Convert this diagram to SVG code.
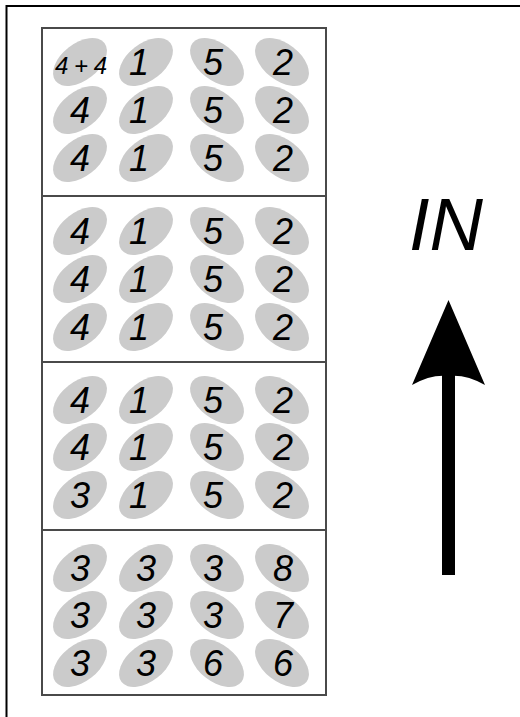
<svg xmlns="http://www.w3.org/2000/svg" width="520" height="717" viewBox="0 0 520 717">
<defs>
<style>
.bg{fill:#ffffff}
.frame{fill:none;stroke:#000;stroke-width:2}
.box{fill:none;stroke:#4a4a4a;stroke-width:2}
.blob{fill:#cbcbcb;filter:url(#soft)}
.d{font-family:"Liberation Sans",Arial,sans-serif;font-style:italic;font-size:36px;fill:#000;text-anchor:middle}
.d.s{font-size:24px}
.lbl{font-family:"Liberation Sans",Arial,sans-serif;font-style:italic;font-size:74px;fill:#000}
</style>
<filter id="soft" x="-10%" y="-10%" width="120%" height="120%"><feGaussianBlur stdDeviation="0.6"/></filter>
<ellipse id="eL" cx="0" cy="0" rx="31" ry="18.5" transform="rotate(-38)"/>
<ellipse id="eR" cx="0" cy="0" rx="31" ry="18.5" transform="rotate(38)"/>
</defs>
<rect class="bg" x="0" y="0" width="520" height="717"/>
<path class="frame" d="M6.5,717 V6 H520"/>

<g id="grid">
<rect class="box" x="42" y="28" width="284" height="667"/>
<line class="box" x1="42" y1="196" x2="326" y2="196"/>
<line class="box" x1="42" y1="362" x2="326" y2="362"/>
<line class="box" x1="42" y1="530" x2="326" y2="530"/>
</g>

<!-- Section 1 -->
<g id="s1r1c1"><use href="#eL" class="blob" x="80" y="62"/><text class="d s" x="81" y="74" textLength="52" lengthAdjust="spacing">4+4</text></g>
<g id="s1r1c2"><use href="#eL" class="blob" x="146" y="62"/><text class="d" x="139" y="75">1</text></g>
<g id="s1r1c3"><use href="#eR" class="blob" x="217" y="62"/><text class="d" x="213" y="75">5</text></g>
<g id="s1r1c4"><use href="#eR" class="blob" x="282" y="62"/><text class="d" x="283" y="75">2</text></g>
<g id="s1r2c1"><use href="#eL" class="blob" x="80" y="110"/><text class="d" x="80" y="123">4</text></g>
<g id="s1r2c2"><use href="#eL" class="blob" x="146" y="110"/><text class="d" x="139" y="123">1</text></g>
<g id="s1r2c3"><use href="#eR" class="blob" x="217" y="110"/><text class="d" x="213" y="123">5</text></g>
<g id="s1r2c4"><use href="#eR" class="blob" x="282" y="110"/><text class="d" x="283" y="123">2</text></g>
<g id="s1r3c1"><use href="#eL" class="blob" x="80" y="158"/><text class="d" x="80" y="171">4</text></g>
<g id="s1r3c2"><use href="#eL" class="blob" x="146" y="158"/><text class="d" x="139" y="171">1</text></g>
<g id="s1r3c3"><use href="#eR" class="blob" x="217" y="158"/><text class="d" x="213" y="171">5</text></g>
<g id="s1r3c4"><use href="#eR" class="blob" x="282" y="158"/><text class="d" x="283" y="171">2</text></g>

<!-- Section 2 -->
<g id="s2r1c1"><use href="#eL" class="blob" x="80" y="231"/><text class="d" x="80" y="244">4</text></g>
<g id="s2r1c2"><use href="#eL" class="blob" x="146" y="231"/><text class="d" x="139" y="244">1</text></g>
<g id="s2r1c3"><use href="#eR" class="blob" x="217" y="231"/><text class="d" x="213" y="244">5</text></g>
<g id="s2r1c4"><use href="#eR" class="blob" x="282" y="231"/><text class="d" x="283" y="244">2</text></g>
<g id="s2r2c1"><use href="#eL" class="blob" x="80" y="279"/><text class="d" x="80" y="292">4</text></g>
<g id="s2r2c2"><use href="#eL" class="blob" x="146" y="279"/><text class="d" x="139" y="292">1</text></g>
<g id="s2r2c3"><use href="#eR" class="blob" x="217" y="279"/><text class="d" x="213" y="292">5</text></g>
<g id="s2r2c4"><use href="#eR" class="blob" x="282" y="279"/><text class="d" x="283" y="292">2</text></g>
<g id="s2r3c1"><use href="#eL" class="blob" x="80" y="327"/><text class="d" x="80" y="340">4</text></g>
<g id="s2r3c2"><use href="#eL" class="blob" x="146" y="327"/><text class="d" x="139" y="340">1</text></g>
<g id="s2r3c3"><use href="#eR" class="blob" x="217" y="327"/><text class="d" x="213" y="340">5</text></g>
<g id="s2r3c4"><use href="#eR" class="blob" x="282" y="327"/><text class="d" x="283" y="340">2</text></g>

<!-- Section 3 -->
<g id="s3r1c1"><use href="#eL" class="blob" x="80" y="400"/><text class="d" x="80" y="413">4</text></g>
<g id="s3r1c2"><use href="#eL" class="blob" x="146" y="400"/><text class="d" x="139" y="413">1</text></g>
<g id="s3r1c3"><use href="#eR" class="blob" x="217" y="400"/><text class="d" x="213" y="413">5</text></g>
<g id="s3r1c4"><use href="#eR" class="blob" x="282" y="400"/><text class="d" x="283" y="413">2</text></g>
<g id="s3r2c1"><use href="#eL" class="blob" x="80" y="447"/><text class="d" x="80" y="460">4</text></g>
<g id="s3r2c2"><use href="#eL" class="blob" x="146" y="447"/><text class="d" x="139" y="460">1</text></g>
<g id="s3r2c3"><use href="#eR" class="blob" x="217" y="447"/><text class="d" x="213" y="460">5</text></g>
<g id="s3r2c4"><use href="#eR" class="blob" x="282" y="447"/><text class="d" x="283" y="460">2</text></g>
<g id="s3r3c1"><use href="#eL" class="blob" x="80" y="495"/><text class="d" x="80" y="508">3</text></g>
<g id="s3r3c2"><use href="#eL" class="blob" x="146" y="495"/><text class="d" x="139" y="508">1</text></g>
<g id="s3r3c3"><use href="#eR" class="blob" x="217" y="495"/><text class="d" x="213" y="508">5</text></g>
<g id="s3r3c4"><use href="#eR" class="blob" x="282" y="495"/><text class="d" x="283" y="508">2</text></g>

<!-- Section 4 -->
<g id="s4r1c1"><use href="#eL" class="blob" x="80" y="568"/><text class="d" x="80" y="581">3</text></g>
<g id="s4r1c2"><use href="#eL" class="blob" x="146" y="568"/><text class="d" x="146" y="581">3</text></g>
<g id="s4r1c3"><use href="#eR" class="blob" x="217" y="568"/><text class="d" x="213" y="581">3</text></g>
<g id="s4r1c4"><use href="#eR" class="blob" x="282" y="568"/><text class="d" x="283" y="581">8</text></g>
<g id="s4r2c1"><use href="#eL" class="blob" x="80" y="615"/><text class="d" x="80" y="628">3</text></g>
<g id="s4r2c2"><use href="#eL" class="blob" x="146" y="615"/><text class="d" x="146" y="628">3</text></g>
<g id="s4r2c3"><use href="#eR" class="blob" x="217" y="615"/><text class="d" x="213" y="628">3</text></g>
<g id="s4r2c4"><use href="#eR" class="blob" x="282" y="615"/><text class="d" x="283" y="628">7</text></g>
<g id="s4r3c1"><use href="#eL" class="blob" x="80" y="663"/><text class="d" x="80" y="676">3</text></g>
<g id="s4r3c2"><use href="#eL" class="blob" x="146" y="663"/><text class="d" x="146" y="676">3</text></g>
<g id="s4r3c3"><use href="#eR" class="blob" x="217" y="663"/><text class="d" x="213" y="676">6</text></g>
<g id="s4r3c4"><use href="#eR" class="blob" x="282" y="663"/><text class="d" x="283" y="676">6</text></g>

<g id="label-in"><text class="lbl" x="409" y="250">IN</text></g>

<g id="connectors">
<rect x="442" y="374" width="13" height="201" fill="#000"/>
<path d="M448.5,300 L485,385 Q466,374 448.5,376 Q431,374 412,385 Z" fill="#000"/>
</g>
</svg>
